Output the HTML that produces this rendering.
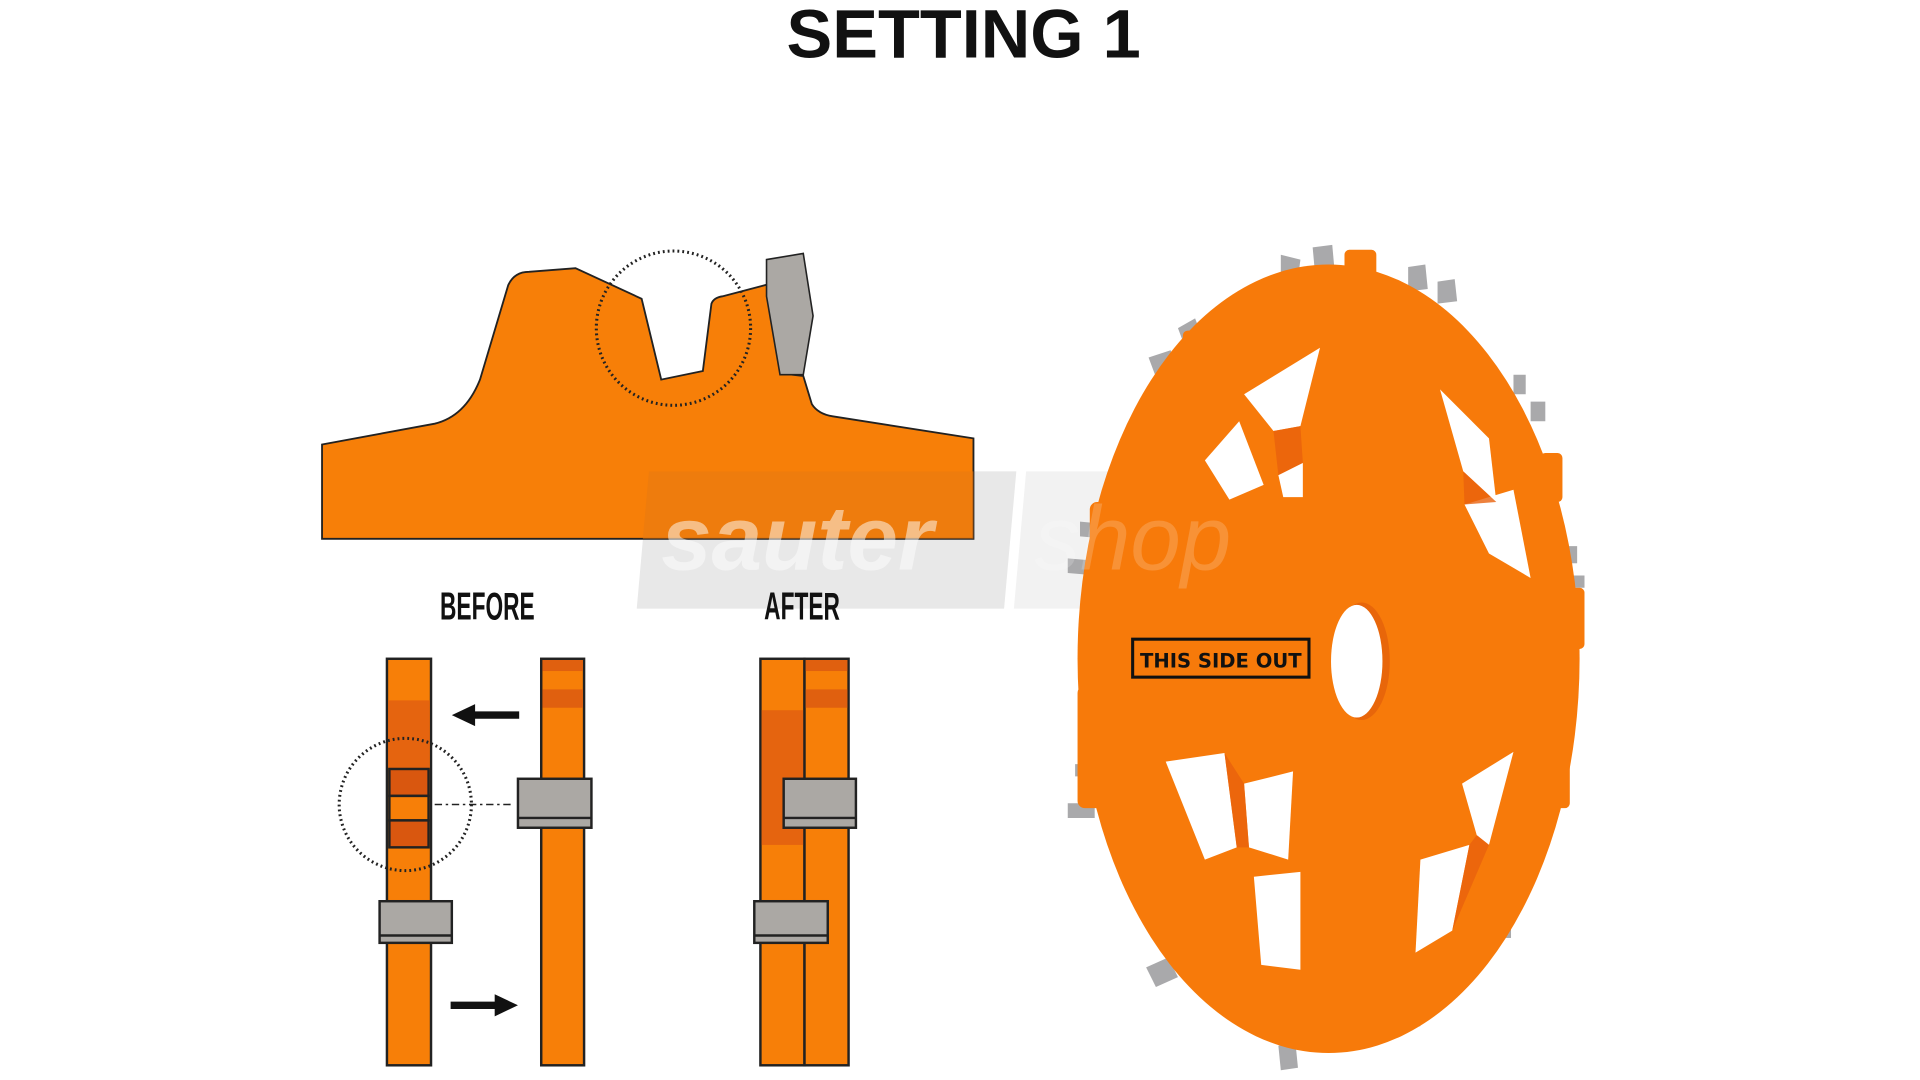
<!DOCTYPE html>
<html><head><meta charset="utf-8"><style>
html,body{margin:0;padding:0;background:#fff;width:1920px;height:1080px;overflow:hidden}
svg{display:block}
</style></head><body>
<svg width="1920" height="1080" viewBox="0 0 1568 882" preserveAspectRatio="none" xmlns="http://www.w3.org/2000/svg">
<rect width="1568" height="882" fill="#fff"/>
<text x="787" y="47" text-anchor="middle" font-family="Liberation Sans, sans-serif" font-weight="bold" font-size="56" fill="#111">SETTING 1</text>

<!-- watermark (behind) -->
<polygon points="530,385 830,385 820,497 520,497" fill="#e8e8e8"/>
<polygon points="838,385 1045,385 1035,497 828,497" fill="#f2f2f2"/>

<!-- top profile -->
<path d="M263,363 L355,346 Q380,340 392,310 L415,233 Q420,222 432,222 L470,219 L524,244 L540,310 L574,303 L581,248 Q583,243 590,242 L628,232 L638,305 L656,307 Q660,320 663,330 Q668,338 680,340 L795,358 L795,440 L263,440 Z" fill="#f77f08" stroke="#222" stroke-width="1.5"/>
<polygon points="530,385 795,385 795,440 525,440" fill="#e87a10" opacity="0.6"/>
<path d="M626,212 L656,207 L664,258 L656,306 L637,306 L626,242 Z" fill="#aba8a4" stroke="#222" stroke-width="1.3"/>
<circle cx="550" cy="268" r="63" fill="none" stroke="#222" stroke-width="2.5" stroke-dasharray="1.5 2.5"/>

<!-- labels -->
<text x="398" y="506" text-anchor="middle" font-family="Liberation Sans, sans-serif" font-weight="bold" font-size="32" fill="#111" transform="translate(398 0) scale(0.58 1) translate(-398 0)">BEFORE</text>
<text x="655" y="506" text-anchor="middle" font-family="Liberation Sans, sans-serif" font-weight="bold" font-size="32" fill="#111" transform="translate(655 0) scale(0.58 1) translate(-655 0)">AFTER</text>

<g stroke="#222" stroke-width="2">
<rect x="316" y="538" width="36" height="332" fill="#f77f08"/>
<rect x="317" y="572" width="34" height="56" fill="#e5640f" stroke="none"/>
<rect x="318" y="628" width="32" height="22" fill="#d9570f"/>
<rect x="318" y="650" width="32" height="20" fill="#f77f08"/>
<rect x="318" y="670" width="32" height="22" fill="#d9570f"/>
<rect x="310" y="736" width="59" height="34" fill="#aba8a4"/>
<line x1="310" y1="764" x2="369" y2="764"/>
<rect x="442" y="538" width="35" height="332" fill="#f77f08"/>
<rect x="443" y="539" width="33" height="9" fill="#e0600f" stroke="none"/>
<rect x="443" y="563" width="33" height="15" fill="#e0600f" stroke="none"/>
<rect x="423" y="636" width="60" height="40" fill="#aba8a4"/>
<line x1="423" y1="668" x2="483" y2="668"/>
<rect x="621" y="538" width="36" height="332" fill="#f77f08"/>
<rect x="622" y="580" width="34" height="110" fill="#e5640f" stroke="none"/>
<rect x="657" y="538" width="36" height="332" fill="#f77f08"/>
<rect x="658" y="539" width="34" height="9" fill="#e0600f" stroke="none"/>
<rect x="658" y="563" width="34" height="15" fill="#e0600f" stroke="none"/>
<rect x="640" y="636" width="59" height="40" fill="#aba8a4"/>
<line x1="640" y1="668" x2="699" y2="668"/>
<rect x="616" y="736" width="60" height="34" fill="#aba8a4"/>
<line x1="616" y1="764" x2="676" y2="764"/>
</g>
<circle cx="331" cy="657" r="54" fill="none" stroke="#222" stroke-width="2.5" stroke-dasharray="1.5 2.5"/>
<line x1="355" y1="657" x2="420" y2="657" stroke="#222" stroke-width="1.3" stroke-dasharray="6 3 2 3"/>
<line x1="424" y1="584" x2="385" y2="584" stroke="#111" stroke-width="6"/>
<polygon points="369,584 388,575 388,593" fill="#111"/>
<line x1="368" y1="821" x2="407" y2="821" stroke="#111" stroke-width="6"/>
<polygon points="423,821 404,812 404,830" fill="#111"/>

<!-- saw blade -->
<g>
<g fill="#a9a9ab">
<polygon points="1046,208 1062,212 1060,228 1046,226"/>
<polygon points="1072,202 1088,200 1090,222 1074,224"/>
<polygon points="1150,218 1164,216 1166,236 1150,238"/>
<polygon points="1174,230 1188,228 1190,246 1174,248"/>
<polygon points="962,268 976,260 982,276 968,284"/>
<polygon points="938,292 956,286 962,302 944,308"/>
<polygon points="882,426 904,428 904,440 882,438"/>
<polygon points="872,456 896,458 896,470 872,468"/>
<polygon points="878,624 900,624 900,634 878,634"/>
<polygon points="872,656 894,656 894,668 872,668"/>
<polygon points="936,790 954,782 962,798 944,806"/>
<polygon points="1044,854 1058,852 1060,872 1046,874"/>
<polygon points="1146,822 1158,820 1160,838 1148,840"/>
<polygon points="1236,306 1246,306 1246,322 1236,322"/>
<polygon points="1250,328 1262,328 1262,344 1250,344"/>
<polygon points="1278,446 1288,446 1288,460 1278,460"/>
<polygon points="1282,470 1294,470 1294,480 1282,480"/>
<polygon points="1272,590 1282,590 1282,602 1272,602"/>
<polygon points="1270,620 1280,620 1280,632 1270,632"/>
<polygon points="1232,722 1242,722 1242,736 1232,736"/>
<polygon points="1224,752 1234,752 1234,766 1224,766"/>
</g>
<ellipse cx="1085" cy="538" rx="205" ry="322" fill="#f77a0a"/>
<g fill="#f77a0a">
<rect x="1098" y="204" width="26" height="24" rx="4"/>
<rect x="1056" y="220" width="30" height="14" rx="4"/>
<rect x="966" y="270" width="30" height="18" rx="4"/>
<rect x="890" y="410" width="20" height="90" rx="6"/>
<rect x="880" y="560" width="24" height="100" rx="6"/>
<rect x="1258" y="370" width="18" height="40" rx="4"/>
<rect x="1276" y="480" width="18" height="50" rx="4"/>
<rect x="1266" y="620" width="16" height="40" rx="4"/>
</g>
<g fill="#fff">
<polygon points="1016,322 1078,284 1062,348 1040,352"/>
<polygon points="984,376 1012,344 1032,396 1004,408"/>
<polygon points="1044,388 1064,378 1064,406 1048,406"/>
<polygon points="1176,318 1216,358 1222,410 1195,385"/>
<polygon points="1196,412 1236,400 1250,472 1216,452"/>
<polygon points="952,622 1000,615 1010,692 984,702"/>
<polygon points="1016,640 1056,630 1052,702 1020,692"/>
<polygon points="1024,716 1062,712 1062,792 1030,788"/>
<polygon points="1160,702 1200,690 1186,760 1156,778"/>
<polygon points="1194,640 1236,614 1216,690 1206,682"/>
</g>
<g fill="#e8620c" opacity="0.8">
<polygon points="1040,352 1062,348 1064,378 1044,388"/>
<polygon points="1195,385 1222,410 1196,412"/>
<polygon points="1000,615 1016,640 1020,692 1010,692"/>
<polygon points="1186,760 1200,690 1206,682 1216,690"/>
</g>
<ellipse cx="1112" cy="540" rx="23" ry="48" fill="#e8660a"/>
<ellipse cx="1108" cy="540" rx="21" ry="46" fill="#fff"/>
<rect x="925" y="522" width="144" height="31" fill="none" stroke="#111" stroke-width="2.5"/>
<text x="997" y="545" text-anchor="middle" font-family="DejaVu Sans, sans-serif" font-weight="bold" font-size="16" fill="#111">THIS SIDE OUT</text>
<text x="845" y="465" font-family="Liberation Sans, sans-serif" font-style="italic" font-size="74" fill="#fff" opacity="0.18">shop</text>
</g>
<text x="540" y="465" font-family="Liberation Sans, sans-serif" font-weight="bold" font-style="italic" font-size="74" fill="#fff" opacity="0.5">sauter</text>
</svg>
</body></html>
